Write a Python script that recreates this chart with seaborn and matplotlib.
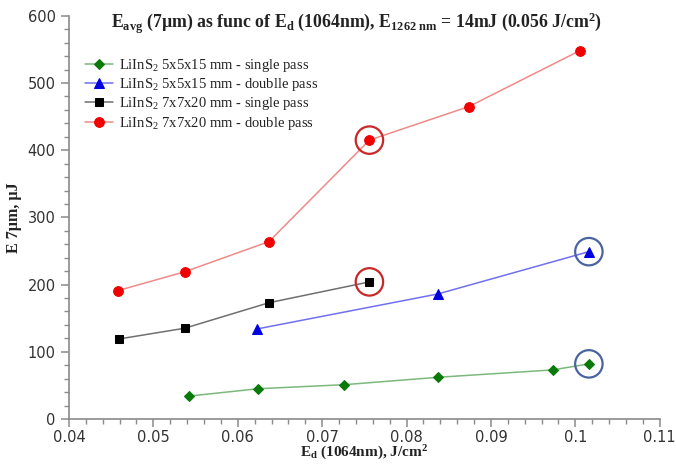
import matplotlib
matplotlib.use("Agg")
import matplotlib.pyplot as plt
import seaborn as sns
import pandas as pd
from matplotlib.ticker import MultipleLocator

# ---- data ----
green_x = [0.0542, 0.0624, 0.0726, 0.0837, 0.0973, 0.1016]
green_y = [34, 45, 51, 62, 73, 82]
blue_x = [0.0623, 0.0837, 0.1016]
blue_y = [134, 186, 249]
black_x = [0.0459, 0.0537, 0.0637, 0.0756]
black_y = [119, 135, 173, 204]
red_x = [0.0458, 0.0537, 0.0637, 0.0756, 0.0874, 0.1005]
red_y = [191, 219, 264, 415, 465, 548]

labels = [
    "LiInS$_2$ 5x5x15 mm - single pass",
    "LiInS$_2$ 5x5x15 mm - doublle pass",
    "LiInS$_2$ 7x7x20 mm - single pass",
    "LiInS$_2$ 7x7x20 mm - double pass",
]
xtick_vals = [0.04, 0.05, 0.06, 0.07, 0.08, 0.09, 0.1, 0.11]
xtick_labels = ["0.04", "0.05", "0.06", "0.07", "0.08", "0.09", "0.1", "0.11"]
# highlighted points (circled)
red_circ_x = [0.0756, 0.0756]
red_circ_y = [415, 204]
blue_circ_x = [0.1016, 0.1016]
blue_circ_y = [249, 82]

title = r"E$_\mathregular{avg}$ (7µm) as func of E$_\mathregular{d}$ (1064nm), E$_\mathregular{1262\ nm}$ = 14mJ (0.056 J/cm$^\mathregular{2}$)"
xlabel = r"E$_\mathregular{d}$ (1064nm), J/cm$^\mathregular{2}$"
ylabel = "E 7µm, µJ"

sns.set_style("white")
plt.rcParams["font.family"] = ["DejaVu Sans"]
plt.rcParams["mathtext.fontset"] = "custom"
plt.rcParams["mathtext.rm"] = "Liberation Serif"
plt.rcParams["mathtext.it"] = "Liberation Serif:italic"
plt.rcParams["mathtext.bf"] = "Liberation Serif:bold"

serif = ["Liberation Serif", "DejaVu Serif"]

fig = plt.figure(figsize=(6.76, 4.65), dpi=100)
ax = fig.add_axes([0.102, 0.099, 0.874, 0.867])

series = [
    (green_x, green_y, "D", 5, "#7cb87c", "#0a7a0a", labels[0]),
    (blue_x, blue_y, "^", 6.5, "#7070f0", "#0000e0", labels[1]),
    (black_x, black_y, "s", 6, "#707070", "#000000", labels[2]),
    (red_x, red_y, "o", 7, "#f08a8a", "#f00000", labels[3]),
]
for xs, ys, mk, ms, lc, mc, lab in series:
    df = pd.DataFrame({"x": xs, "y": ys})
    sns.lineplot(data=df, x="x", y="y", ax=ax, sort=False, color=lc, lw=1.1,
                 marker=mk, markersize=ms, markerfacecolor=mc, markeredgecolor=mc,
                 label=lab)

ax.scatter(red_circ_x, red_circ_y, s=390, facecolors="none", edgecolors="#c82828", linewidths=1.6, zorder=5)
ax.scatter(blue_circ_x, blue_circ_y, s=390, facecolors="none", edgecolors="#4a64a0", linewidths=1.6, zorder=5)

ax.set_xlim(0.04, 0.11)
ax.set_ylim(0, 600)
ax.xaxis.set_minor_locator(MultipleLocator(0.002))
ax.yaxis.set_major_locator(MultipleLocator(100))
ax.yaxis.set_minor_locator(MultipleLocator(20))
ax.set_xticks(xtick_vals)
ax.set_xticklabels(xtick_labels)

for s in ["top", "right"]:
    ax.spines[s].set_visible(False)
for s in ["left", "bottom"]:
    ax.spines[s].set_color("#8a8a8a")
    ax.spines[s].set_linewidth(1.2)
ax.tick_params(which="major", direction="out", length=6, width=1.1, color="#8a8a8a",
               labelsize=10.5, labelcolor="#333333", bottom=True, left=True)
ax.tick_params(which="minor", direction="out", length=3.5, width=1.0, color="#8a8a8a",
               bottom=True, left=True)
ax.tick_params(axis="x", which="major", pad=2)

ax.set_xlabel(xlabel, family=serif, fontweight="bold", fontsize=11, labelpad=-1, color="#222222")
ax.set_ylabel(ylabel, family=serif, fontweight="bold", fontsize=11.5, labelpad=4, color="#222222")

fig.text(0.527, 0.950, title, family=serif, fontweight="bold", fontsize=12.8, ha="center", va="center",
         color="#222222")

leg = ax.legend(loc="upper left", bbox_to_anchor=(0.018, 0.913), frameon=False,
                prop={"family": serif, "size": 10.5}, handlelength=1.9, handletextpad=0.4,
                labelspacing=0.16, borderaxespad=0)
for t in leg.get_texts():
    t.set_color("#222222")

fig.savefig("out.png", dpi=100)
